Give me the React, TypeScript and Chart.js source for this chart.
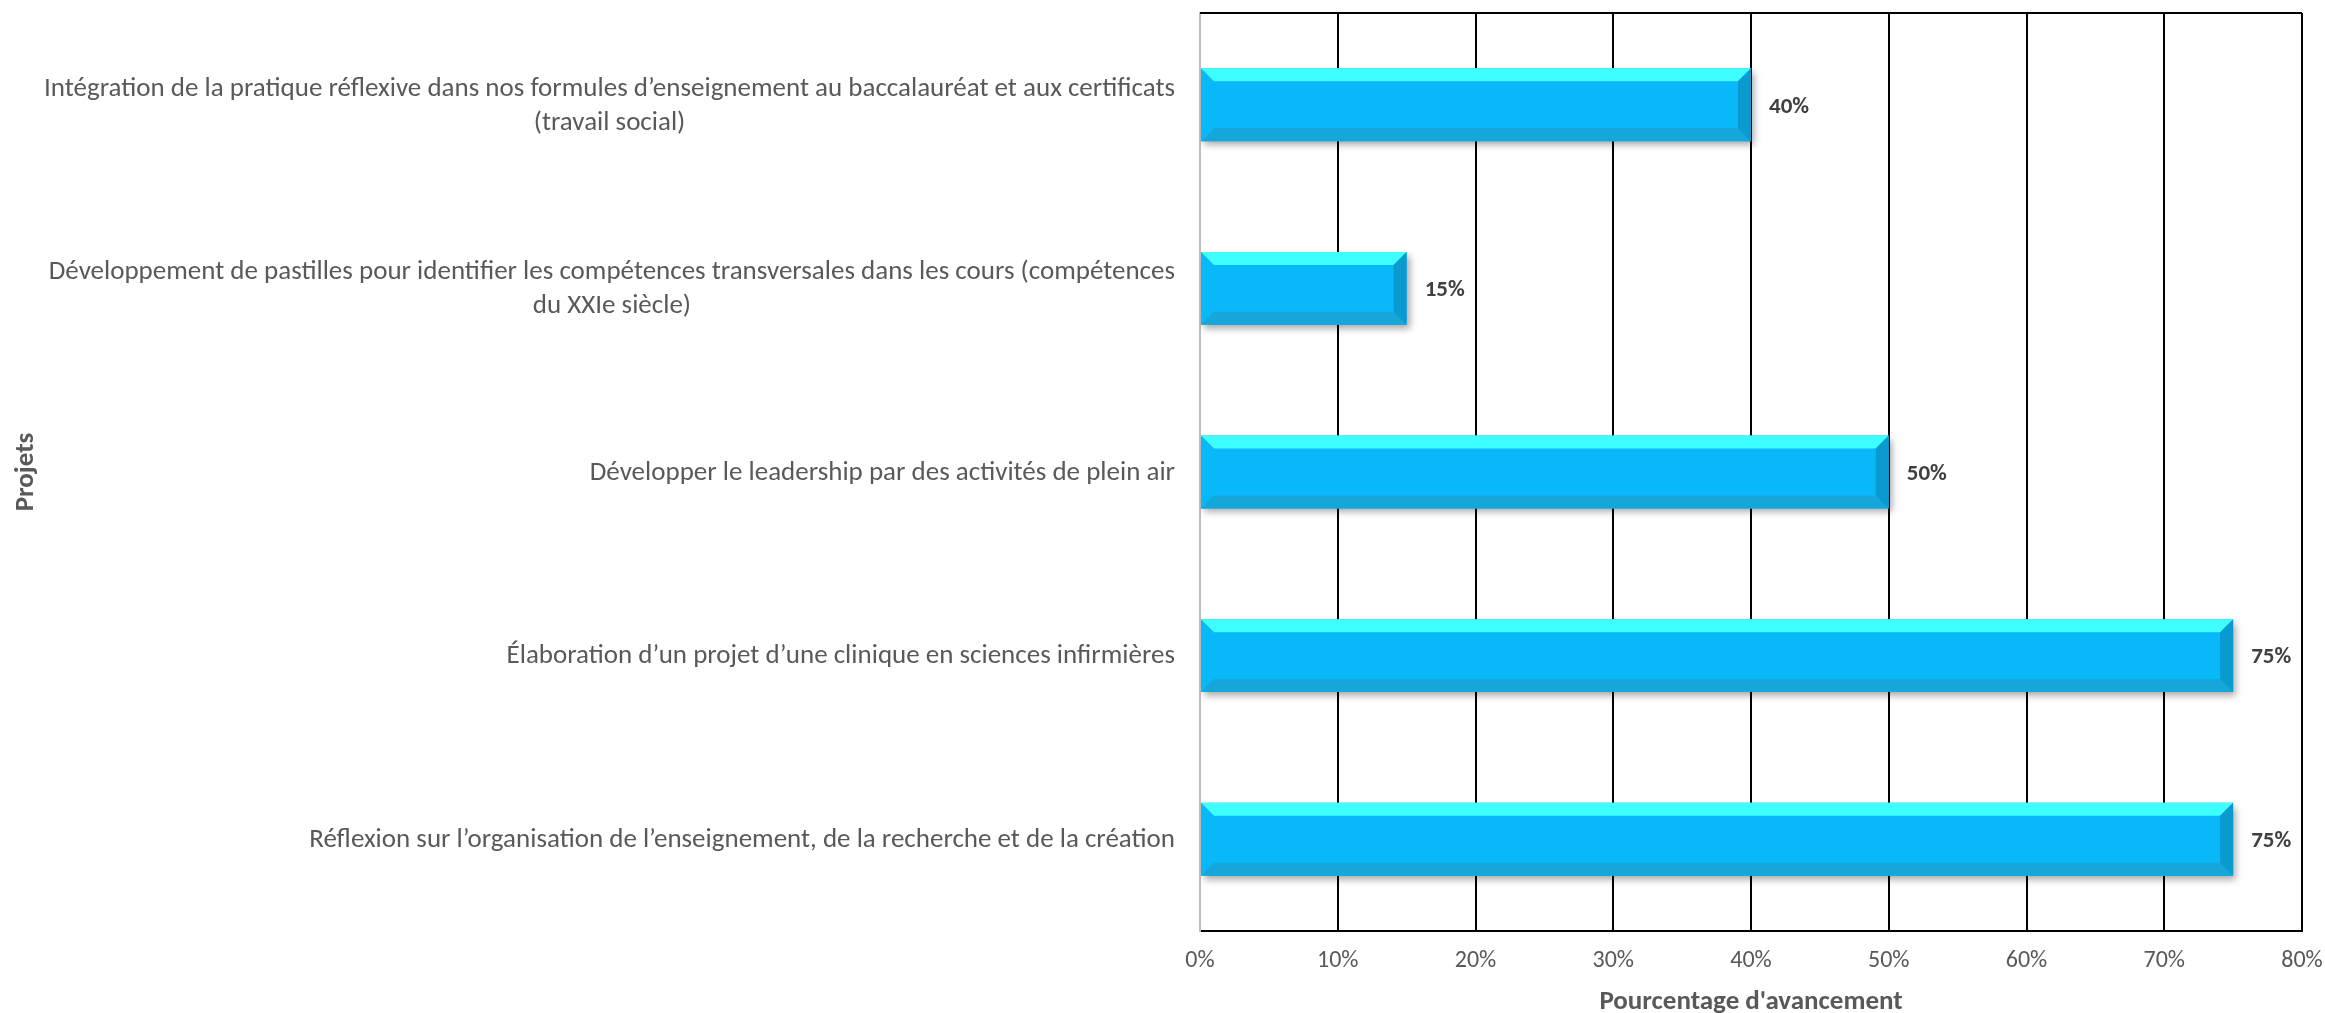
import React, { useEffect, useRef } from 'react';
import { Chart, registerables } from 'chart.js';

Chart.register(...registerables);

const categories: string[][] = [
  ['Intégration de la pratique réflexive dans nos formules d’enseignement au baccalauréat et aux certificats', '(travail social)'],
  ['Développement de pastilles pour identifier les compétences transversales dans les cours (compétences', 'du XXIe siècle)'],
  ['Développer le leadership par des activités de plein air'],
  ['Élaboration d’un projet d’une clinique en sciences infirmières'],
  ['Réflexion sur l’organisation de l’enseignement, de la recherche et de la création'],
];
const values: number[] = [40, 15, 50, 75, 75];
const xMin = 0;
const xMax = 80;
const xStep = 10;
const xTitle = "Pourcentage d'avancement";
const yTitle = 'Projets';

const FONT = 'Carlito, Calibri, Lato, sans-serif';
const GREY = '#595959';

const bevelPlugin = {
  id: 'bevelPlugin',
  beforeDatasetDraw(chart: any) {
    const ctx = chart.ctx;
    ctx.save();
    ctx.shadowColor = 'rgba(0,0,0,0.35)';
    ctx.shadowBlur = 7;
    ctx.shadowOffsetX = 3;
    ctx.shadowOffsetY = 4;
  },
  afterDatasetDraw(chart: any) {
    chart.ctx.restore();
  },
  afterDatasetsDraw(chart: any) {
    const ctx = chart.ctx;
    const meta = chart.getDatasetMeta(0);
    const b = 13;
    meta.data.forEach((el: any) => {
      const top = el.y - el.height / 2;
      const bottom = el.y + el.height / 2;
      const left = el.base;
      const right = el.x;
      const poly = (pts: number[][], color: string) => {
        ctx.beginPath();
        ctx.moveTo(pts[0][0], pts[0][1]);
        for (let i = 1; i < pts.length; i++) ctx.lineTo(pts[i][0], pts[i][1]);
        ctx.closePath();
        ctx.fillStyle = color;
        ctx.fill();
      };
      ctx.save();
      poly([[left, top], [right, top], [right - b, top + b], [left + b, top + b]], '#3FFEFF');
      poly([[left, bottom], [right, bottom], [right - b, bottom - b], [left + b, bottom - b]], '#16A6DA');
      poly([[right, top], [right, bottom], [right - b, bottom - b], [right - b, top + b]], '#0A9AD0');
      ctx.restore();
    });
    // value labels
    ctx.save();
    ctx.font = `bold 23px ${FONT}`;
    ctx.fillStyle = '#404040';
    ctx.textAlign = 'left';
    ctx.textBaseline = 'middle';
    meta.data.forEach((el: any, i: number) => {
      ctx.fillText(values[i] + '%', el.x + 18, el.y + 2);
    });
    ctx.restore();
  },
  afterDraw(chart: any) {
    const ctx = chart.ctx;
    const area = chart.chartArea;
    const yScale = chart.scales.y;
    // top frame line
    ctx.save();
    ctx.strokeStyle = '#000';
    ctx.lineWidth = 2;
    ctx.beginPath();
    ctx.moveTo(area.left, area.top);
    ctx.lineTo(area.right, area.top);
    ctx.stroke();
    ctx.restore();
    // category labels
    ctx.save();
    ctx.font = `27px ${FONT}`;
    ctx.fillStyle = GREY;
    ctx.textAlign = 'center';
    ctx.textBaseline = 'middle';
    const rightX = area.left - 25;
    const lh = 34;
    categories.forEach((lines, i) => {
      const cy = yScale.getPixelForValue(i);
      const w = Math.max(...lines.map((l) => ctx.measureText(l).width));
      const cx = rightX - w / 2;
      lines.forEach((line, j) => {
        const y = cy + (j - (lines.length - 1) / 2) * lh + 1;
        ctx.fillText(line, cx, y);
      });
    });
    ctx.restore();
  },
};

export default function App() {
  const ref = useRef<HTMLCanvasElement>(null);
  useEffect(() => {
    document.body.style.margin = '0';
    const canvas = ref.current!;
    const chart = new Chart(canvas, {
      type: 'bar',
      data: {
        labels: categories.map((c) => c.join(' ')),
        datasets: [
          {
            data: values,
            backgroundColor: '#08B8F8',
            borderWidth: 0,
            categoryPercentage: 1,
            barPercentage: 0.397,
          },
        ],
      },
      options: {
        indexAxis: 'y',
        animation: false,
        responsive: true,
        maintainAspectRatio: false,
        layout: { padding: { top: 13, right: 23, left: 0, bottom: 0 } },
        plugins: { legend: { display: false }, tooltip: { enabled: false } },
        scales: {
          x: {
            type: 'linear',
            min: xMin,
            max: xMax,
            afterFit: (s: any) => {
              s.height = 82;
              s.paddingLeft = 0;
              s.paddingRight = 0;
            },
            ticks: {
              stepSize: xStep,
              color: GREY,
              font: { family: FONT, size: 24 },
              padding: 16,
              callback: (v: any) => v + '%',
            },
            grid: {
              color: (c: any) => (c.index === 0 ? 'rgba(0,0,0,0)' : '#000'),
              lineWidth: 2,
              drawTicks: false,
            },
            border: { display: true, color: '#000', width: 2 },
            title: {
              display: true,
              text: xTitle,
              color: GREY,
              font: { family: FONT, size: 27, weight: 'bold', lineHeight: 0.8 },
              padding: { top: 0, bottom: 0 },
            },
          },
          y: {
            type: 'category',
            afterFit: (s: any) => {
              s.width = 1200;
              s.paddingTop = 0;
              s.paddingBottom = 0;
            },
            ticks: { display: false },
            grid: { display: false, drawTicks: false },
            border: { display: true, color: '#BFBFBF', width: 2 },
            title: {
              display: true,
              text: yTitle,
              color: GREY,
              font: { family: FONT, size: 27, weight: 'bold', lineHeight: 1.2 },
              padding: { top: 10, bottom: 0 },
            },
          },
        },
      },
      plugins: [bevelPlugin],
    } as any);
    return () => chart.destroy();
  }, []);
  return (
    <div style={{ width: 2325, height: 1013, position: 'relative' }}>
      <canvas ref={ref} />
    </div>
  );
}
